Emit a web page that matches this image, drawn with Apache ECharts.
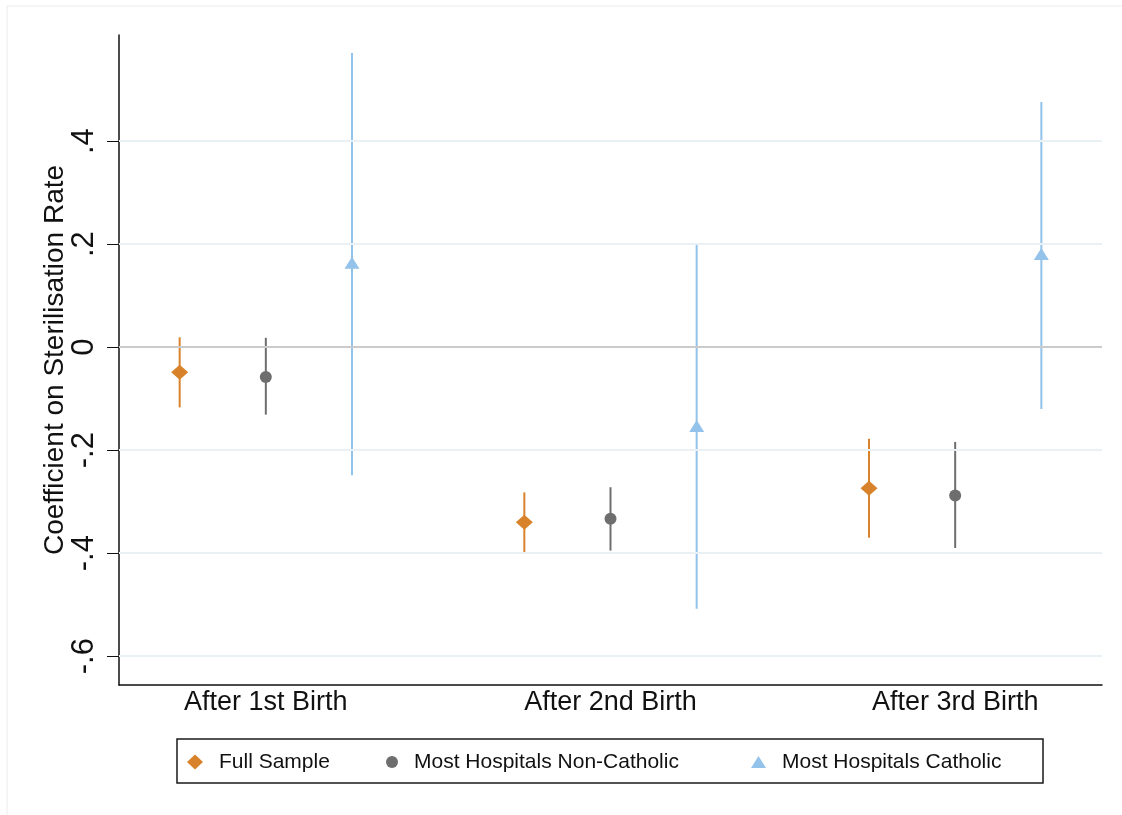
<!DOCTYPE html>
<html>
<head>
<meta charset="utf-8">
<script src="https://cdn.jsdelivr.net/npm/echarts@6/dist/echarts.min.js"></script>
<style>
html,body{margin:0;padding:0;background:#fff;}
#chart{width:1122px;height:815px;}
</style>
</head>
<body>
<div id="chart"></div>
<script>
// ---- data ----
const categories = ['After 1st Birth', 'After 2nd Birth', 'After 3rd Birth'];
const seriesNames = ['Full Sample', 'Most Hospitals Non-Catholic', 'Most Hospitals Catholic'];
const fullCoef = [-0.049, -0.340, -0.274];
const fullLo   = [-0.117, -0.399, -0.370];
const fullHi   = [ 0.019, -0.282, -0.178];
const nonCathCoef = [-0.058, -0.333, -0.288];
const nonCathLo   = [-0.131, -0.395, -0.390];
const nonCathHi   = [ 0.018, -0.272, -0.184];
const cathCoef = [ 0.164, -0.153,  0.181];
const cathLo   = [-0.249, -0.508, -0.120];
const cathHi   = [ 0.571,  0.199,  0.476];
const yTicks = [-0.6, -0.4, -0.2, 0, 0.2, 0.4];
const yTickLabels = ['-.6', '-.4', '-.2', '0', '.2', '.4'];

// ---- layout / style ----
const FONT = '"Liberation Sans", Arial, Helvetica, sans-serif';
const offsets = [-0.25, 0, 0.25];
const colors = ['#d8832b', '#6e6e6e', '#93c2ea'];
const symbols = ['diamond', 'circle', 'triangle'];
const symbolSizes = [[17, 15], [12, 12], [15, 12]];
const groups = [
  {coef: fullCoef, lo: fullLo, hi: fullHi},
  {coef: nonCathCoef, lo: nonCathLo, hi: nonCathHi},
  {coef: cathCoef, lo: cathLo, hi: cathHi}
];

const series = [];
groups.forEach((g, si) => {
  const barData = g.coef.map((c, ci) => [ci + 1 + offsets[si], g.lo[ci], g.hi[ci]]);
  const ptData = g.coef.map((c, ci) => [ci + 1 + offsets[si], c]);
  series.push({
    name: seriesNames[si],
    type: 'scatter',
    symbol: symbols[si],
    symbolSize: symbolSizes[si],
    itemStyle: {color: colors[si], opacity: 1},
    data: ptData,
    z: 5,
    silent: true
  });
  series.push({
    name: seriesNames[si],
    type: 'custom',
    data: barData,
    z: 4,
    silent: true,
    renderItem: function (params, api) {
      const x = api.value(0);
      const p1 = api.coord([x, api.value(1)]);
      const p2 = api.coord([x, api.value(2)]);
      return {
        type: 'line',
        shape: {x1: p1[0], y1: p1[1], x2: p2[0], y2: p2[1]},
        style: {stroke: colors[si], lineWidth: 2}
      };
    }
  });
});

// grid lines
series.push({
  type: 'scatter',
  data: [],
  silent: true,
  z: 1,
  markLine: {
    silent: true,
    symbol: 'none',
    label: {show: false},
    animation: false,
    data: yTicks.map(v => ({
      yAxis: v,
      lineStyle: v === 0
        ? {color: '#cbcbcb', width: 2, type: 'solid'}
        : {color: '#eaf1f5', width: 2, type: 'solid'}
    }))
  }
});

const legendBase = {
  orient: 'horizontal',
  padding: 0,
  itemGap: 0,
  top: 751,
  selectedMode: false,
  textStyle: {fontFamily: FONT, fontSize: 21, color: '#111', lineHeight: 22}
};

const option = {
  animation: false,
  backgroundColor: '#fff',
  grid: {left: 119, top: 35, right: 20, bottom: 130, containLabel: false},
  xAxis: {
    type: 'value',
    min: 0.574,
    max: 3.426,
    axisLine: {show: true, onZero: false, lineStyle: {color: '#111', width: 1.5}},
    axisTick: {show: false},
    splitLine: {show: false},
    axisLabel: {
      customValues: [1, 2, 3],
      formatter: v => categories[Math.round(v) - 1],
      fontFamily: FONT, fontSize: 27, color: '#111', margin: 4
    }
  },
  yAxis: {
    type: 'value',
    min: -0.656,
    max: 0.606,
    name: 'Coefficient on Sterilisation Rate',
    nameLocation: 'middle',
    nameGap: 50,
    nameMoveOverlap: false,
    nameTextStyle: {fontFamily: FONT, fontSize: 28, color: '#111'},
    axisLine: {show: true, onZero: false, lineStyle: {color: '#111', width: 1.5}},
    axisTick: {show: true, customValues: yTicks, length: 12, lineStyle: {color: '#111', width: 1}},
    splitLine: {show: false},
    axisLabel: {
      customValues: yTicks,
      rotate: 90,
      margin: 19,
      formatter: v => {
        const i = yTicks.findIndex(t => Math.abs(t - v) < 1e-6);
        return i >= 0 ? yTickLabels[i] : '';
      },
      fontFamily: FONT, fontSize: 31, color: '#111'
    }
  },
  legend: [
    Object.assign({}, legendBase, {
      left: 187, itemWidth: 16, itemHeight: 15,
      data: [{name: seriesNames[0], icon: 'diamond', itemStyle: {color: colors[0]}}],
      textStyle: Object.assign({}, legendBase.textStyle, {padding: [0, 0, 0, 11]})
    }),
    Object.assign({}, legendBase, {
      left: 386, itemWidth: 12, itemHeight: 12,
      data: [{name: seriesNames[1], icon: 'circle', itemStyle: {color: colors[1]}}],
      textStyle: Object.assign({}, legendBase.textStyle, {padding: [0, 0, 0, 11]})
    }),
    Object.assign({}, legendBase, {
      left: 751, itemWidth: 15, itemHeight: 12,
      data: [{name: seriesNames[2], icon: 'triangle', itemStyle: {color: colors[2]}}],
      textStyle: Object.assign({}, legendBase.textStyle, {padding: [0, 0, 0, 11]})
    })
  ],
  graphic: [
    {type: 'rect', shape: {x: 7, y: 6, width: 1200, height: 900},
     style: {fill: 'none', stroke: '#ececec', lineWidth: 1}, silent: true, z: 0},
    {type: 'rect', shape: {x: 177, y: 739, width: 866, height: 44},
     style: {fill: 'none', stroke: '#1a1a1a', lineWidth: 1.5}, silent: true, z: 0}
  ],
  series: series
};

const chart = echarts.init(document.getElementById('chart'), null, {renderer: 'canvas'});
chart.setOption(option);
</script>
</body>
</html>
